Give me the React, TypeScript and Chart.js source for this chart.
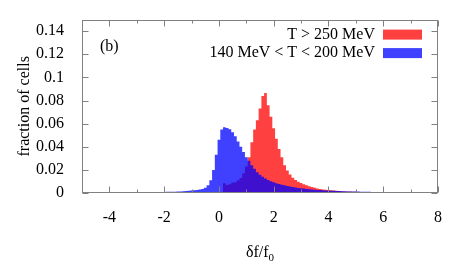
import React, { useEffect, useRef } from 'react';
import { Chart, registerables } from 'chart.js';

Chart.register(...registerables);

const BIN_WIDTH = 0.1;

// 140 MeV < T < 200 MeV, bins centred from -4.5 to 8.0
const blueFirstCenter = -4.5;
const blueValues = [
  0.0001, 0.0001, 0.0001, 0.0002, 0.0002, 0.0002, 0.0002, 0.0002, 0.0003, 0.0003,
  0.0003, 0.0003, 0.0004, 0.0004, 0.0004, 0.0005, 0.0005, 0.0005, 0.0006, 0.0006,
  0.0007, 0.0007, 0.0008, 0.0008, 0.0009, 0.0009, 0.0010, 0.0010, 0.0011, 0.0011,
  0.0012, 0.0013, 0.0015, 0.0017, 0.0019, 0.0021, 0.0023, 0.0026, 0.0030, 0.0034,
  0.0045, 0.0068, 0.0110, 0.0200, 0.0330, 0.0460, 0.0550, 0.0568, 0.0562, 0.0552,
  0.0525, 0.0490, 0.0445, 0.0400, 0.0355, 0.0310, 0.0280, 0.0240, 0.0210, 0.0180,
  0.0158, 0.0140, 0.0125, 0.0112, 0.0102, 0.0093, 0.0085, 0.0078, 0.0072, 0.0066,
  0.0061, 0.0056, 0.0052, 0.0048, 0.0044, 0.0041, 0.0038, 0.0035, 0.0033, 0.0031,
  0.0029, 0.0027, 0.0025, 0.0024, 0.0022, 0.0021, 0.0020, 0.0019, 0.0018, 0.0017,
  0.0016, 0.0015, 0.0014, 0.0014, 0.0013, 0.0012, 0.0012, 0.0011, 0.0011, 0.0010,
  0.0010, 0.0009, 0.0009, 0.0009, 0.0008, 0.0008, 0.0008, 0.0007, 0.0007, 0.0007,
  0.0006, 0.0006, 0.0006, 0.0006, 0.0005, 0.0005, 0.0005, 0.0005, 0.0004, 0.0004,
  0.0004, 0.0004, 0.0003, 0.0003, 0.0003, 0.0003,
];

// T > 250 MeV, bins centred from 0.2 to 7.0
const redFirstCenter = 0.2;
const redValues = [
  0.0085, 0.0070, 0.0075, 0.0090, 0.0092, 0.0110, 0.0130, 0.0170, 0.0230, 0.0310,
  0.0440, 0.0550, 0.0630, 0.0730, 0.0840, 0.0865, 0.0760, 0.0660, 0.0560, 0.0470,
  0.0380, 0.0310, 0.0240, 0.0195, 0.0160, 0.0132, 0.0113, 0.0098, 0.0086, 0.0075,
  0.0066, 0.0058, 0.0051, 0.0045, 0.0040, 0.0035, 0.0031, 0.0028, 0.0025, 0.0023,
  0.0021, 0.0019, 0.0017, 0.0015, 0.0014, 0.0013, 0.0012, 0.0011, 0.0010, 0.0009,
  0.0008, 0.0008, 0.0007, 0.0007, 0.0006, 0.0005, 0.0005, 0.0004, 0.0004, 0.0003,
  0.0003, 0.0003, 0.0002, 0.0002, 0.0002, 0.0001, 0.0001, 0.0001, 0.0001,
];

const xMajorTicks = [-4, -2, 0, 2, 4, 6, 8];
const xMinorTicks = [-5, -3, -1, 1, 3, 5, 7];
const yTicks = [0, 0.02, 0.04, 0.06, 0.08, 0.1, 0.12, 0.14];
const seriesLabels = ['T > 250 MeV', '140 MeV < T < 200 MeV'];
const panelLabel = '(b)';
const xTitleMain = 'δf/f';
const xTitleSub = '0';
const yTitle = 'fraction of cells';

const RED = 'rgba(255,0,0,0.75)';
const BLUE = 'rgba(0,0,255,0.75)';
const FONT = "'Liberation Serif', 'DejaVu Serif', serif";

function toPoints(first: number, values: number[]) {
  const pts = [{ x: +(first - BIN_WIDTH).toFixed(2), y: 0 }];
  values.forEach((v, i) => pts.push({ x: +(first + i * BIN_WIDTH).toFixed(2), y: v }));
  pts.push({ x: +(first + values.length * BIN_WIDTH).toFixed(2), y: 0 });
  return pts;
}

const decor = {
  id: 'decor',
  afterDraw(chart: any) {
    const { ctx, chartArea: a, scales } = chart;
    const x = scales.x;
    const y = scales.y;
    ctx.save();
    ctx.strokeStyle = '#808080';
    ctx.lineWidth = 1;
    const L = Math.round(a.left) + 0.5;
    const R = Math.round(a.right) - 0.5;
    const T = Math.round(a.top) + 0.5;
    const B = Math.round(a.bottom) - 0.5;
    ctx.strokeRect(L, T, R - L, B - T);
    ctx.beginPath();
    const xt = (v: number, len: number) => {
      const px = Math.round(x.getPixelForValue(v)) + 0.5;
      ctx.moveTo(px, B); ctx.lineTo(px, B - len);
      ctx.moveTo(px, T); ctx.lineTo(px, T + len);
    };
    xMajorTicks.forEach((v) => xt(v, 6));
    xMinorTicks.forEach((v) => xt(v, 3));
    yTicks.forEach((v) => {
      const py = Math.round(y.getPixelForValue(v)) + 0.5;
      ctx.moveTo(L, py); ctx.lineTo(L + 6, py);
      ctx.moveTo(R, py); ctx.lineTo(R - 6, py);
    });
    ctx.stroke();

    ctx.fillStyle = '#000';
    ctx.font = `16px ${FONT}`;
    ctx.textBaseline = 'middle';
    // panel label
    ctx.textAlign = 'left';
    ctx.fillText(panelLabel, a.left + 18, a.top + 27);
    // legend
    ctx.textAlign = 'right';
    const colors = [RED, BLUE];
    const rowsY = [a.top + 15, a.top + 33.5];
    seriesLabels.forEach((lab, i) => {
      ctx.fillStyle = '#000';
      ctx.fillText(lab, a.right - 63, rowsY[i]);
      ctx.fillStyle = colors[i];
      ctx.fillRect(a.right - 55, rowsY[i] - 5, 39, 10);
    });
    // x title
    ctx.fillStyle = '#000';
    ctx.textAlign = 'left';
    ctx.textBaseline = 'alphabetic';
    ctx.font = `16px ${FONT}`;
    const w1 = ctx.measureText(xTitleMain).width;
    ctx.font = `11px ${FONT}`;
    const w2 = ctx.measureText(xTitleSub).width;
    const cx = (a.left + a.right) / 2;
    const sx = cx - (w1 + w2) / 2;
    ctx.font = `16px ${FONT}`;
    ctx.fillText(xTitleMain, sx, 257);
    ctx.font = `11px ${FONT}`;
    ctx.fillText(xTitleSub, sx + w1, 261);
    // y title
    ctx.font = `16px ${FONT}`;
    ctx.textAlign = 'center';
    ctx.textBaseline = 'middle';
    ctx.translate(25, (a.top + a.bottom) / 2);
    ctx.rotate(-Math.PI / 2);
    ctx.fillText(yTitle, 0, 0);
    ctx.restore();
  },
};

export default function App() {
  const ref = useRef<HTMLCanvasElement>(null);
  useEffect(() => {
    document.body.style.margin = '0';
    const chart = new Chart(ref.current as HTMLCanvasElement, {
      type: 'line',
      data: {
        datasets: [
          {
            label: seriesLabels[1],
            data: toPoints(blueFirstCenter, blueValues),
            stepped: 'middle',
            fill: 'origin',
            backgroundColor: BLUE,
            borderColor: 'rgba(0,0,0,0)',
            borderWidth: 0,
            pointRadius: 0,
            order: 1,
          },
          {
            label: seriesLabels[0],
            data: toPoints(redFirstCenter, redValues),
            stepped: 'middle',
            fill: 'origin',
            backgroundColor: RED,
            borderColor: 'rgba(0,0,0,0)',
            borderWidth: 0,
            pointRadius: 0,
            order: 2,
          },
        ],
      },
      options: {
        animation: false,
        responsive: false,
        events: [],
        layout: { padding: { top: 16, right: 25, left: 0, bottom: 0 } },
        plugins: { legend: { display: false }, tooltip: { enabled: false } },
        scales: {
          x: {
            type: 'linear',
            min: -5,
            max: 8,
            grid: { display: false },
            border: { display: false },
            afterBuildTicks: (s: any) => { s.ticks = xMajorTicks.map((v) => ({ value: v })); },
            afterFit: (s: any) => { s.height = 85; },
            ticks: {
              autoSkip: false,
              maxRotation: 0,
              padding: 7,
              color: '#000',
              font: { family: FONT, size: 16 },
              callback: (v: any) => String(v),
            },
          },
          y: {
            type: 'linear',
            min: 0,
            max: 0.15,
            grid: { display: false },
            border: { display: false },
            afterBuildTicks: (s: any) => { s.ticks = yTicks.map((v) => ({ value: v })); },
            afterFit: (s: any) => { s.width = 82; },
            ticks: {
              autoSkip: false,
              padding: 10,
              color: '#000',
              font: { family: FONT, size: 16 },
              callback: (v: any) => String(parseFloat(Number(v).toFixed(2))),
            },
          },
        },
      },
      plugins: [decor],
    } as any);
    return () => chart.destroy();
  }, []);
  return (
    <div style={{ width: 463, height: 278 }}>
      <canvas ref={ref} width={463} height={278} />
    </div>
  );
}
